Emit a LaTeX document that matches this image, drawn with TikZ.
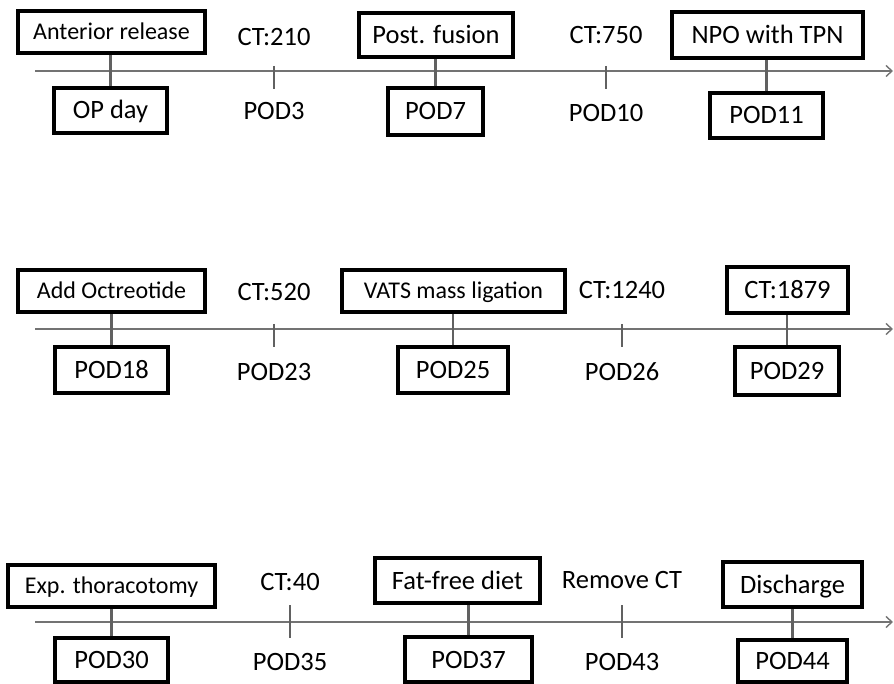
\documentclass[tikz,border=0pt]{standalone}
\usepackage{fontspec}
\setmainfont{Carlito}
\usetikzlibrary{arrows.meta}
\begin{document}
\begin{tikzpicture}[x=1pt,y=-1pt,
  evbox/.style={draw=black, line width=3.4pt, inner sep=0pt, text height=17pt, text depth=0pt, font=\fontsize{26.5}{28}\selectfont},
  smallbox/.style={evbox, text height=15.5pt, text depth=0pt, font=\fontsize{24}{26}\selectfont},
  lbl/.style={inner sep=0pt, text height=17pt, text depth=0pt, font=\fontsize{26.5}{28}\selectfont},
  stem/.style={draw=black!62, line width=2.2pt},
  axis/.style={draw=black!55, line width=2.4pt, -{Straight Barb[length=6pt,width=11pt,line width=1.4pt]}}]
\useasboundingbox (0,0) rectangle (894,684);
% helper: box from (x1,y1) to (x2,y2)
\newcommand{\bx}[7]{\node[#1, minimum width={#4-#2}, minimum height={#5-#3}] (#6) at ({(#2+#4)/2},{(#3+#5)/2}) {#7};}
% ---------------- Row 1 ----------------
\coordinate (a1s) at (35,71); \coordinate (a1e) at (893,71);
\draw[axis] (a1s) -- (a1e);
\bx{smallbox}{18}{11}{205}{53}{ar}{Anterior release}
\bx{evbox}{54}{88}{167}{133}{op}{OP day}
\draw[stem] (op.north) -- (op.north |- ar.south);
\coordinate (t1a) at (274,66); \coordinate (t1b) at (274,89);
\draw[stem] (t1a) -- (t1b);
\node[lbl] (ct210) at (274,37) {CT:210};
\node[lbl] (pod3) at (274,111) {POD3};
\bx{evbox}{359}{13}{513}{57}{pf}{Post. fusion}
\bx{evbox}{388}{88}{483}{135}{pod7}{POD7}
\draw[stem] (pod7.north) -- (pod7.north |- pf.south);
\coordinate (t2a) at (606,66); \coordinate (t2b) at (606,89);
\draw[stem] (t2a) -- (t2b);
\node[lbl] (ct750) at (606,35) {CT:750};
\node[lbl] (pod10) at (606,113) {POD10};
\bx{evbox}{672}{12}{863}{58}{npo}{NPO with TPN}
\bx{evbox}{710}{93}{823}{138}{pod11}{POD11}
\draw[stem] (pod11.north) -- (pod11.north |- npo.south);
% ---------------- Row 2 ----------------
\coordinate (a2s) at (35,329); \coordinate (a2e) at (893,329);
\draw[axis] (a2s) -- (a2e);
\bx{smallbox}{18}{270}{205}{312}{oct}{Add Octreotide}
\bx{evbox}{55}{347}{168}{393}{pod18}{POD18}
\draw[stem] (pod18.north) -- (pod18.north |- oct.south);
\coordinate (t3a) at (274,324); \coordinate (t3b) at (274,347);
\draw[stem] (t3a) -- (t3b);
\node[lbl] (ct520) at (274,292) {CT:520};
\node[lbl] (pod23) at (274,372) {POD23};
\bx{smallbox}{342}{270}{565}{312}{vats}{VATS mass ligation}
\bx{evbox}{398}{347}{508}{393}{pod25}{POD25}
\draw[stem] (pod25.north) -- (pod25.north |- vats.south);
\coordinate (t4a) at (622,324); \coordinate (t4b) at (622,347);
\draw[stem] (t4a) -- (t4b);
\node[lbl] (ct1240) at (622,290) {CT:1240};
\node[lbl] (pod26) at (622,372) {POD26};
\bx{evbox}{727}{267}{848}{313}{ct1879}{CT:1879}
\bx{evbox}{735}{347}{839}{395}{pod29}{POD29}
\draw[stem] (pod29.north) -- (pod29.north |- ct1879.south);
% ---------------- Row 3 ----------------
\coordinate (a3s) at (35,622); \coordinate (a3e) at (893,622);
\draw[axis] (a3s) -- (a3e);
\bx{smallbox}{8}{565}{215}{607}{exp}{Exp. thoracotomy}
\bx{evbox}{55}{638}{168}{682}{pod30}{POD30}
\draw[stem] (pod30.north) -- (pod30.north |- exp.south);
\coordinate (t5a) at (290,605); \coordinate (t5b) at (290,638);
\draw[stem] (t5a) -- (t5b);
\node[lbl] (ct40) at (290,582) {CT:40};
\node[lbl] (pod35) at (290,662) {POD35};
\bx{evbox}{375}{558}{540}{603}{ffd}{Fat-free diet}
\bx{evbox}{405}{637}{532}{682}{pod37}{POD37}
\draw[stem] (pod37.north) -- (pod37.north |- ffd.south);
\coordinate (t6a) at (622,605); \coordinate (t6b) at (622,638);
\draw[stem] (t6a) -- (t6b);
\node[lbl] (rct) at (622,580) {Remove CT};
\node[lbl] (pod43) at (622,662) {POD43};
\bx{evbox}{723}{562}{862}{607}{dis}{Discharge}
\bx{evbox}{738}{640}{847}{682}{pod44}{POD44}
\draw[stem] (pod44.north) -- (pod44.north |- dis.south);
\end{tikzpicture}
\end{document}
